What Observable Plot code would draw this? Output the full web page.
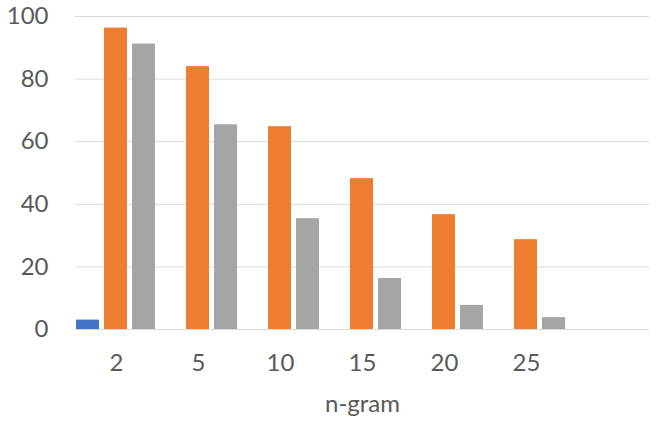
<!DOCTYPE html>
<html>
<head>
<meta charset="utf-8">
<script src="https://cdn.jsdelivr.net/npm/d3@7"></script>
<script src="https://cdn.jsdelivr.net/npm/@observablehq/plot@0.6"></script>
<style>
  html, body { margin: 0; padding: 0; background: #fff; }
  svg { display: block; }
</style>
</head>
<body>
<div id="chart"></div>
<script>
const categories = ["2", "5", "10", "15", "20", "25"];
const seriesNames = ["A", "B", "C"];
const seriesA = [3, 0, 0, 0, 0, 0];
const seriesB = [96.3, 84.0, 64.8, 48.2, 36.7, 28.7];
const seriesC = [91.2, 65.4, 35.4, 16.3, 7.7, 3.8];
const yTicks = [0, 20, 40, 60, 80, 100];
const colors = ["#4472C4", "#ED7D31", "#A5A5A5"];

const data = [];
categories.forEach((c, i) => {
  data.push({cat: c, series: "A", value: seriesA[i]});
  data.push({cat: c, series: "B", value: seriesB[i]});
  data.push({cat: c, series: "C", value: seriesC[i]});
});
// the chart has an empty 7th category slot on the right
const fxDomain = [...categories, " "];
const grid = [];
fxDomain.forEach(c => yTicks.forEach(t => grid.push({cat: c, y: t})));

const font = "Lato, 'Open Sans', sans-serif";
const chart = Plot.plot({
  width: 664,
  height: 423,
  marginLeft: 75,
  marginRight: 15,
  marginTop: 16,
  marginBottom: 94,
  style: {fontFamily: font, background: "#fff"},
  fx: {domain: fxDomain, padding: 0, label: null},
  x: {domain: seriesNames, paddingInner: 0.172, paddingOuter: 0, axis: null},
  y: {domain: [0, 100], axis: null},
  color: {domain: seriesNames, range: colors},
  marks: [
    Plot.ruleY(grid, {fx: "cat", y: "y", stroke: "#D9D9D9", strokeWidth: 1}),
    Plot.barY(data, {fx: "cat", x: "series", y: "value", fill: "series"}),
    Plot.axisY(yTicks, {
      anchor: "left", tickSize: 0, tickPadding: 27, fontSize: 24,
      fill: "#595959", label: null, facetAnchor: "left"
    }),
    Plot.axisFx({
      anchor: "bottom", tickSize: 0, tickPadding: 24, fontSize: 24,
      fill: "#595959", tickFormat: d => d.trim(),
      label: "n-gram", labelAnchor: "center", labelOffset: 82, labelArrow: false
    })
  ]
});
document.getElementById("chart").appendChild(chart);
d3.select(chart).selectAll("[aria-label='fx-axis label'] text").attr("font-size", 24);
</script>
</body>
</html>
